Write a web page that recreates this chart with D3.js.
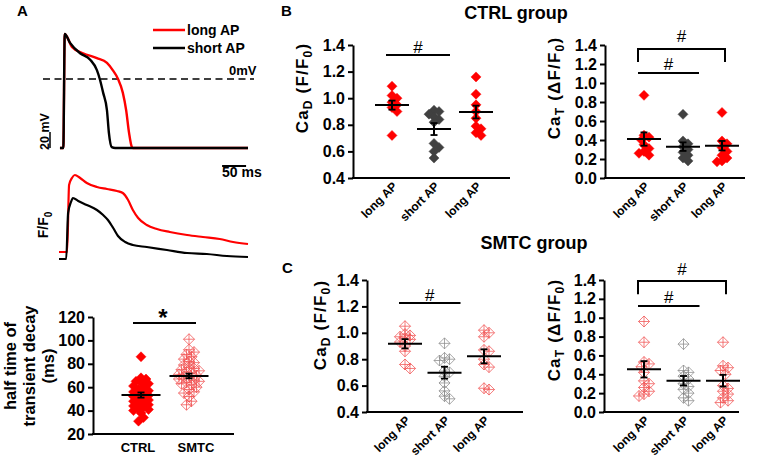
<!DOCTYPE html>
<html><head><meta charset="utf-8">
<script src="https://cdn.jsdelivr.net/npm/d3@7"></script>
<style>
body{margin:0;background:#fff}
text{font-family:"Liberation Sans",Arial,sans-serif;font-weight:bold;fill:#000}
</style></head>
<body><svg id="c" width="764" height="459"></svg>
<script>
// ---------------- DATA ----------------
// Panel A: representative traces [time ms, value]
const apLong  = [[2,-86],[9,-86],[12,56],[27,40],[50,32],[79,26],[100,20],[112,11],[123,0],[133,-17],[140,-39],[146,-67],[152,-85],[154,-86],[394,-86]];
const apShort = [[2,-86],[9,-86],[12,56],[23,45],[44,32],[65,24],[79,11],[85,0],[92,-17],[100,-39],[104,-67],[110,-85],[117,-86],[394,-86]];
const caLong  = [[0,1.14],[17,1.14],[21,2.48],[27,2.62],[33,2.68],[44,2.62],[58,2.52],[79,2.44],[100,2.40],[121,2.36],[133,2.32],[144,2.18],[154,1.98],[165,1.82],[183,1.68],[204,1.60],[231,1.54],[267,1.48],[300,1.44],[335,1.40],[363,1.34],[394,1.30]];
const caShort = [[0,1.0],[15,1.0],[19,1.92],[25,2.14],[29,2.22],[40,2.16],[58,2.08],[79,1.98],[92,1.88],[102,1.78],[113,1.62],[123,1.46],[138,1.34],[154,1.28],[183,1.24],[225,1.18],[267,1.12],[308,1.10],[350,1.06],[394,1.04]];
const legendLabels = ["long AP","short AP"];

// Panel A bottom: half time of transient decay (ms)
const halfCats = ["CTRL","SMTC"];
const halfCTRL = [86,68,67,65,64,63,61,60,58,57,56,55,54,53,52,51,50,49,48,47,46,45,44,43,42,41,40,38,34,31];
const halfSMTC = [101,92,90,88,86,84,82,81,79,77,76,75,74,73,72,71,70,69,68,67,66,65,64,63,62,60,58,56,55,52,48,45];
const halfMean = [53.3,69.6];
const halfSem  = [2.2,2.0];
const halfTicks = [20,40,60,80,100,120];

// Panels B/C
const apCats = ["long AP","short AP","long AP"];
const ctrlCaD = [[1.09,1.02,1.00,0.97,0.95,0.93,0.90,0.72],[0.91,0.90,0.88,0.86,0.84,0.82,0.66,0.63,0.60,0.55],[1.16,1.03,0.95,0.90,0.85,0.79,0.77,0.74,0.72]];
const ctrlCaDMean = [0.948,0.768,0.896];
const ctrlCaDSem  = [0.034,0.045,0.048];
const ctrlCaT = [[0.87,0.45,0.43,0.40,0.35,0.31,0.28,0.26,0.24],[0.67,0.39,0.36,0.33,0.30,0.27,0.24,0.21,0.18],[0.69,0.39,0.36,0.32,0.28,0.24,0.21,0.18,0.17]];
const ctrlCaTMean = [0.41,0.33,0.34];
const ctrlCaTSem  = [0.07,0.045,0.05];
const smtcCaD = [[1.05,0.99,0.98,0.97,0.96,0.95,0.93,0.90,0.86,0.76,0.73],[0.92,0.81,0.80,0.79,0.71,0.70,0.67,0.62,0.56,0.52,0.50],[1.02,1.00,0.97,0.87,0.86,0.80,0.76,0.74,0.58,0.57]];
const smtcCaDMean = [0.917,0.698,0.822];
const smtcCaDSem  = [0.035,0.045,0.053];
const smtcCaT = [[0.96,0.74,0.53,0.51,0.48,0.42,0.33,0.30,0.26,0.22,0.19,0.17],[0.72,0.44,0.42,0.38,0.35,0.30,0.27,0.24,0.20,0.15,0.12],[0.74,0.49,0.47,0.44,0.40,0.28,0.25,0.22,0.19,0.15,0.12,0.10]];
const smtcCaTMean = [0.453,0.332,0.332];
const smtcCaTSem  = [0.087,0.05,0.062];
const ticksCaD = [0.4,0.6,0.8,1.0,1.2,1.4];
const ticksCaT = [0.0,0.2,0.4,0.6,0.8,1.0,1.2,1.4];

// ---------------- DRAW ----------------
const svg = d3.select("#c");
const RED = "#ff0000", DARK = "#404040", LRED = "#f05050", LGRAY = "#8a8a8a";

function label(x, y, txt, size, opts={}) {
  const t = svg.append("text").attr("x",x).attr("y",y).style("font-size",size+"px").text(txt);
  if (opts.anchor) t.attr("text-anchor",opts.anchor);
  if (opts.normal) t.style("font-weight","normal");
  return t;
}
label(17,16,"A",15);
label(281,16,"B",15);
label(282,273,"C",15);

// --- A top: action potentials
const xT = d3.scaleLinear().domain([0,394]).range([59,248]);
const yAP = d3.scaleLinear().domain([-86,56]).range([148,34]);
const lineAP = d3.line().x(d=>xT(d[0])).y(d=>yAP(d[1])).curve(d3.curveMonotoneX);
svg.append("line").attr("x1",43).attr("x2",254).attr("y1",yAP(0)).attr("y2",yAP(0))
  .attr("stroke","#000").attr("stroke-width",1.6).attr("stroke-dasharray","7,4.5");
label(229,75,"0mV",13);
svg.append("path").datum(apLong).attr("d",lineAP).attr("fill","none").attr("stroke",RED).attr("stroke-width",2.4);
svg.append("path").datum(apShort).attr("d",lineAP).attr("fill","none").attr("stroke","#000").attr("stroke-width",2.4);
// legend
[[RED,30,35],["#000",48,53]].forEach((d,i)=>{
  svg.append("line").attr("x1",153).attr("x2",185).attr("y1",d[1]).attr("y2",d[1]).attr("stroke",d[0]).attr("stroke-width",2.5);
  label(187,d[2],legendLabels[i],14);
});
// 20 mV scale bar
svg.append("line").attr("x1",50).attr("x2",50).attr("y1",yAP(-86)).attr("y2",yAP(-66)).attr("stroke","#000").attr("stroke-width",1.5);
svg.append("text").attr("transform",`translate(49,150) rotate(-90)`).style("font-size","12.5px").text("20 mV");

// --- A middle: calcium traces
const yCa = d3.scaleLinear().domain([1,2.68]).range([259,175]);
const lineCa = d3.line().x(d=>xT(d[0])).y(d=>yCa(d[1])).curve(d3.curveMonotoneX);
svg.append("path").datum(caLong).attr("d",lineCa).attr("fill","none").attr("stroke",RED).attr("stroke-width",2.2);
svg.append("path").datum(caShort).attr("d",lineCa).attr("fill","none").attr("stroke","#000").attr("stroke-width",2.2);
// 50 ms bar
svg.append("line").attr("x1",xT(340)).attr("x2",xT(390)).attr("y1",166).attr("y2",166).attr("stroke","#000").attr("stroke-width",2);
label(222,177,"50 ms",14);
const ff = svg.append("text").attr("transform","translate(48,225) rotate(-90)").attr("text-anchor","middle").style("font-size","14px");
ff.append("tspan").text("F/F");
ff.append("tspan").attr("dy",4).style("font-size","10px").text("0");

// marker helpers
function diamond(r){return `M0,${-r}L${r},0L0,${r}L${-r},0Z`;}
function crossDiamond(r){return `M0,${-r}L${r},0L0,${r}L${-r},0Z M${-r},0H${r} M0,${-r}V${r}`;}
function dodge(vals, y, cx, step, maxOff, minDist){
  const idx = vals.map((v,i)=>i).sort((a,b)=>vals[b]-vals[a]);
  const placed = [], out = new Array(vals.length);
  idx.forEach(i=>{
    const py = y(vals[i]);
    let best=0, bestScore=-Infinity;
    const n = Math.floor(maxOff/step);
    for (let k=0;k<=2*n;k++){
      const off = (k%2?1:-1)*Math.ceil(k/2)*step;
      let dmin = Infinity;
      placed.forEach(p=>{const d=Math.hypot(p[0]-(cx+off),p[1]-py); if(d<dmin)dmin=d;});
      if (dmin>=minDist){best=off;bestScore=Infinity;break;}
      if (dmin>bestScore){bestScore=dmin;best=off;}
    }
    placed.push([cx+best,py]); out[i]=[cx+best,py];
  });
  return out;
}
function drawPoints(g, pts, kind, color, r){
  g.selectAll(null).data(pts).enter().append("path")
    .attr("transform",d=>`translate(${d[0]},${d[1]})`)
    .attr("d", kind==="fill"?diamond(r):crossDiamond(r))
    .attr("fill", kind==="fill"?color:"none")
    .attr("stroke", color).attr("stroke-width", kind==="fill"?0.5:1)
    .attr("opacity", kind==="fill"?1:0.75);
}
function meanErr(g, cx, y, m, s, half, cap){
  g.append("line").attr("x1",cx-half).attr("x2",cx+half).attr("y1",y(m)).attr("y2",y(m)).attr("stroke","#000").attr("stroke-width",2);
  g.append("line").attr("x1",cx).attr("x2",cx).attr("y1",y(m-s)).attr("y2",y(m+s)).attr("stroke","#000").attr("stroke-width",2);
  [m-s,m+s].forEach(v=>g.append("line").attr("x1",cx-cap).attr("x2",cx+cap).attr("y1",y(v)).attr("y2",y(v)).attr("stroke","#000").attr("stroke-width",1.8));
}
function styleAxis(ax){
  ax.select(".domain").attr("stroke","#000").attr("stroke-width",2);
  ax.selectAll(".tick line").attr("stroke","#000").attr("stroke-width",2);
  ax.selectAll(".tick text").style("font-size","16px").style("font-family",'"Liberation Sans",Arial,sans-serif').style("font-weight","bold").attr("fill","#000");
}

// --- A bottom: half time scatter
{
  const g = svg.append("g");
  const y = d3.scaleLinear().domain([20,120]).range([434,317]);
  const x = d3.scalePoint().domain(halfCats).range([141,189]);
  const ax = g.append("g").attr("transform","translate(93,0)")
    .call(d3.axisLeft(y).tickValues(halfTicks).tickSize(5).tickSizeOuter(0).tickPadding(3));
  styleAxis(ax);
  g.append("line").attr("x1",92).attr("x2",234).attr("y1",434).attr("y2",434).attr("stroke","#000").attr("stroke-width",2);
  halfCats.forEach(c=>g.append("text").attr("x",x(c)+(c==="SMTC"?7:-3)).attr("y",452).attr("text-anchor","middle").style("font-size","13px").text(c));
  drawPoints(g, dodge(halfCTRL,y,x("CTRL"),2.5,9,5), "fill", RED, 5);
  drawPoints(g, dodge(halfSMTC,y,x("SMTC"),2.5,10,5), "hollow", LRED, 5.5);
  halfCats.forEach((c,i)=>meanErr(g,x(c),y,halfMean[i],halfSem[i],19.5,3.5));
  g.append("line").attr("x1",133).attr("x2",196).attr("y1",y(114.9)).attr("y2",y(114.9)).attr("stroke","#000").attr("stroke-width",2);
  g.append("text").attr("x",163).attr("y",y(114.9)+3).attr("text-anchor","middle").style("font-size","24px").text("*");
  const yl = g.append("text").attr("text-anchor","middle").attr("transform","translate(0,366) rotate(-90)").style("font-size","16.5px");
  [["half time of",16],["transient decay",35],["(ms)",54]].forEach(d=>yl.append("tspan").attr("x",0).attr("y",d[1]).text(d[0]));
}

// --- B / C group panels
function groupPanel(cfg){
  const g = svg.append("g");
  const x = d3.scaleLinear().domain([0,2]).range(cfg.xRange);
  const y = d3.scaleLinear().domain(cfg.yDomain).range(cfg.yRange);
  const base = cfg.yRange[0];
  const ax = g.append("g").attr("transform",`translate(${cfg.axisX[0]},0)`)
    .call(d3.axisLeft(y).tickValues(cfg.ticks).tickFormat(d3.format(".1f")).tickSize(5).tickSizeOuter(0).tickPadding(3));
  styleAxis(ax);
  g.append("line").attr("x1",cfg.axisX[0]-1).attr("x2",cfg.axisX[1]).attr("y1",base).attr("y2",base).attr("stroke","#000").attr("stroke-width",2);
  apCats.forEach((c,i)=>g.append("text").attr("transform",`translate(${x(i)+6},${base+9}) rotate(-45)`)
    .attr("text-anchor","end").style("font-size","12px").text(c));
  cfg.data.forEach((vals,i)=>{
    const col = cfg.kind==="fill" ? (i===1?DARK:RED) : (i===1?LGRAY:LRED);
    drawPoints(g, dodge(vals,y,x(i),2.5,7,5), cfg.kind, col, cfg.kind==="fill"?5:5.5);
  });
  cfg.mean.forEach((m,i)=>meanErr(g,x(i),y,m,cfg.sem[i],17,3.5));
  // significance marks
  cfg.sig.forEach(s=>{
    const x1 = x(s.from)-6, x2 = x(s.to)+(s.bracket?3:16), yy = y(s.level);
    if (s.bracket){
      g.append("path").attr("d",`M${x1},${y(s.legEnd)}V${yy}H${x2}V${y(s.legEnd)}`).attr("fill","none").attr("stroke","#000").attr("stroke-width",2);
    } else {
      g.append("line").attr("x1",x1).attr("x2",x2).attr("y1",yy).attr("y2",yy).attr("stroke","#000").attr("stroke-width",2);
    }
    g.append("text").attr("x",(x1+x2)/2).attr("y",yy-s.gap).attr("text-anchor","middle").style("font-size","17px").style("font-weight","normal").text("#");
  });
  // y label
  const t = g.append("text").attr("transform",`translate(${cfg.labelPos[0]+6},${cfg.labelPos[1]}) rotate(-90)`).attr("text-anchor","middle")
    .style("font-size","17px").style("letter-spacing","1.2px");
  t.append("tspan").text("Ca");
  t.append("tspan").attr("dy",4).style("font-size","12px").text(cfg.sub);
  t.append("tspan").attr("dy",-4).text(cfg.unit);
  t.append("tspan").attr("dy",4).style("font-size","12px").text("0");
  t.append("tspan").attr("dy",-4).text(")");
}

label(516,19,"CTRL group",18,{anchor:"middle"});
label(534,249,"SMTC group",18,{anchor:"middle"});

groupPanel({data:ctrlCaD, mean:ctrlCaDMean, sem:ctrlCaDSem, kind:"fill", yDomain:[0.4,1.4], yRange:[178,45], xRange:[392,476], axisX:[353,510], ticks:ticksCaD,
  sig:[{from:0,to:1,level:1.325,gap:2}], labelPos:[302,88], sub:"D", unit:"  (F/F"});
groupPanel({data:ctrlCaT, mean:ctrlCaTMean, sem:ctrlCaTSem, kind:"fill", yDomain:[0,1.4], yRange:[178,45], xRange:[644,722], axisX:[605,745], ticks:ticksCaT,
  sig:[{from:0,to:2,level:1.358,legEnd:1.22,bracket:true,gap:7},{from:0,to:1,level:1.105,gap:3}], labelPos:[554,88], sub:"T", unit:"  (\u0394F/F"});
groupPanel({data:smtcCaD, mean:smtcCaDMean, sem:smtcCaDSem, kind:"hollow", yDomain:[0.4,1.4], yRange:[412,280], xRange:[405,484], axisX:[367,523], ticks:ticksCaD,
  sig:[{from:0,to:1,level:1.226,gap:2}], labelPos:[320,325], sub:"D", unit:"  (F/F"});
groupPanel({data:smtcCaT, mean:smtcCaTMean, sem:smtcCaTSem, kind:"hollow", yDomain:[0,1.4], yRange:[412,280], xRange:[644,723], axisX:[604,739], ticks:ticksCaT,
  sig:[{from:0,to:2,level:1.389,legEnd:1.25,bracket:true,gap:6},{from:0,to:1,level:1.124,gap:3}], labelPos:[554,330], sub:"T", unit:"  (\u0394F/F"});
</script>
</body></html>
